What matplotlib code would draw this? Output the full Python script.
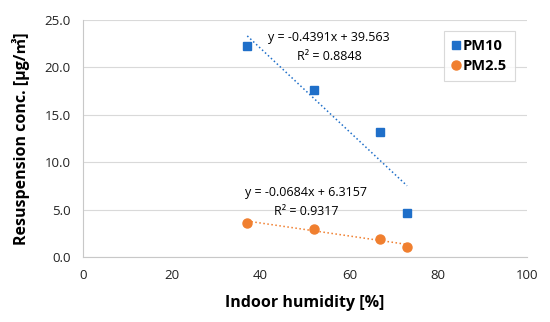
import numpy as np
import matplotlib.pyplot as plt

plt.rcParams['font.family'] = ['Open Sans', 'Noto Sans CJK KR', 'DejaVu Sans']

# humidity [%] and resuspension concentration
humidity = [37, 52, 67, 73]
pm10 = [22.3, 17.6, 13.2, 4.6]
pm25 = [3.6, 3.0, 1.9, 1.0]

# trend lines shown in the chart
fit10 = (-0.4391, 39.563)
fit25 = (-0.0684, 6.3157)

blue = '#1f6fc9'
orange = '#f07f2f'

fig = plt.figure(figsize=(5.5, 3.22), dpi=100)
ax = fig.add_axes([0.151, 0.202, 0.807, 0.736])

ax.plot(humidity, pm10, 's', color=blue, markersize=6, label='PM10', zorder=3)
ax.plot(humidity, pm25, 'o', color=orange, markersize=6.5, label='PM2.5', zorder=3)

# trend lines from min to max humidity
xs = np.array([min(humidity), max(humidity)])
ax.plot(xs, fit10[0] * xs + fit10[1], ':', color=blue, lw=1.1)
ax.plot(xs, fit25[0] * xs + fit25[1], ':', color=orange, lw=1.1)

ax.text(0.554, 0.924, 'y = -0.4391x + 39.563', transform=ax.transAxes,
        ha='center', va='center', fontsize=9)
ax.text(0.554, 0.844, 'R² = 0.8848', transform=ax.transAxes,
        ha='center', va='center', fontsize=9)
ax.text(0.502, 0.274, 'y = -0.0684x + 6.3157', transform=ax.transAxes,
        ha='center', va='center', fontsize=9)
ax.text(0.503, 0.19, 'R² = 0.9317', transform=ax.transAxes,
        ha='center', va='center', fontsize=9)

ax.set_xlim(0, 100)
ax.set_ylim(0, 25)
ax.set_xticks(range(0, 101, 20))
ax.set_yticks(np.arange(0, 25.1, 5))
ax.set_yticklabels([f'{v:.1f}' for v in np.arange(0, 25.1, 5)])
ax.tick_params(length=0, labelsize=9.5, colors='#222222', pad=9)

ax.grid(axis='y', color='#d9d9d9', lw=0.8)
ax.set_axisbelow(True)
for s in ['top', 'right']:
    ax.spines[s].set_visible(False)
for s in ['left', 'bottom']:
    ax.spines[s].set_color('#c8c8c8')

ax.set_xlabel('Indoor humidity [%]', fontsize=11.5, fontweight='bold', labelpad=9)
ax.set_ylabel('Resuspension conc. [μg/㎥]', fontsize=11.5, fontweight='bold', labelpad=10)

leg = ax.legend(loc='upper right', bbox_to_anchor=(0.99, 0.985),
                prop={'weight': 'bold', 'size': 10.5}, handlelength=0.6,
                handletextpad=0.15, borderpad=0.55, labelspacing=0.4,
                fancybox=False, edgecolor='#d0d0d0')
leg.get_frame().set_linewidth(0.8)

plt.savefig('out.png', dpi=100)
